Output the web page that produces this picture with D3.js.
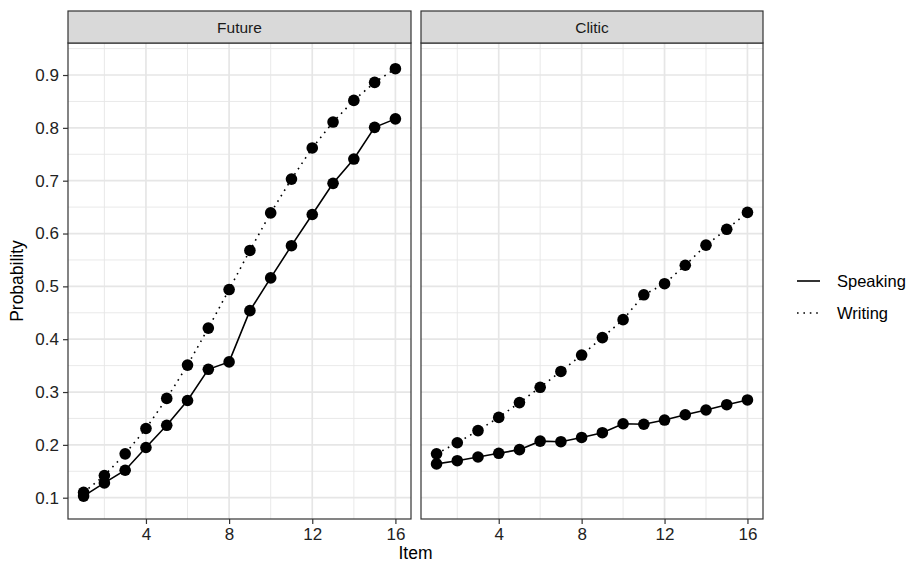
<!DOCTYPE html>
<html>
<head>
<meta charset="utf-8">
<script src="https://cdn.jsdelivr.net/npm/d3@7"></script>
<style>
  body { margin: 0; background: #fff; }
  svg { display: block; font-family: "Liberation Sans", Arial, Helvetica, sans-serif; }
</style>
</head>
<body>
<div id="chart"></div>
<script>
// data
var items = [1, 2, 3, 4, 5, 6, 7, 8, 9, 10, 11, 12, 13, 14, 15, 16];
var facets = ["Future", "Clitic"];
var modes = ["Speaking", "Writing"];

var futureSpeaking = [0.103, 0.128, 0.152, 0.195, 0.237, 0.284, 0.343, 0.357, 0.454, 0.516, 0.577, 0.636, 0.695, 0.741, 0.801, 0.817];
var futureWriting  = [0.110, 0.142, 0.183, 0.231, 0.288, 0.351, 0.421, 0.494, 0.568, 0.639, 0.703, 0.762, 0.811, 0.852, 0.886, 0.912];
var cliticSpeaking = [0.164, 0.170, 0.177, 0.184, 0.191, 0.207, 0.206, 0.214, 0.223, 0.240, 0.239, 0.247, 0.257, 0.266, 0.276, 0.285];
var cliticWriting  = [0.183, 0.204, 0.227, 0.252, 0.280, 0.309, 0.339, 0.370, 0.403, 0.437, 0.484, 0.505, 0.540, 0.578, 0.608, 0.640];

var xTicks = [4, 8, 12, 16];
var xMinor = [2, 6, 10, 14];
var yTicks = [0.1, 0.2, 0.3, 0.4, 0.5, 0.6, 0.7, 0.8, 0.9];
var yMinor = [0.15, 0.25, 0.35, 0.45, 0.55, 0.65, 0.75, 0.85, 0.95];

var seriesByFacet = {
  Future: { Speaking: futureSpeaking, Writing: futureWriting },
  Clitic: { Speaking: cliticSpeaking, Writing: cliticWriting }
};

// layout
var W = 906, H = 565;
var panelTop = 43, panelBottom = 519, stripTop = 11;
var panelX = [[68, 411], [421, 763]];
var dashFor = { Speaking: null, Writing: "1.6,4.8" };
var gridCol = "#e6e6e6";

var svg = d3.select("#chart").append("svg")
  .attr("width", W).attr("height", H);

var y = d3.scaleLinear().domain([0.0597, 0.9606]).range([panelBottom, panelTop]);

facets.forEach(function (f, i) {
  var x0 = panelX[i][0], x1 = panelX[i][1];
  var x = d3.scaleLinear().domain([0.25, 16.75]).range([x0, x1]);
  var g = svg.append("g");

  g.append("rect")
    .attr("x", x0).attr("y", panelTop)
    .attr("width", x1 - x0).attr("height", panelBottom - panelTop)
    .attr("fill", "#fff");

  // minor grid
  g.selectAll(".ymin").data(yMinor).enter().append("line")
    .attr("x1", x0).attr("x2", x1)
    .attr("y1", d => y(d)).attr("y2", d => y(d))
    .attr("stroke", gridCol).attr("stroke-width", 0.9);
  g.selectAll(".xmin").data(xMinor).enter().append("line")
    .attr("y1", panelTop).attr("y2", panelBottom)
    .attr("x1", d => x(d)).attr("x2", d => x(d))
    .attr("stroke", gridCol).attr("stroke-width", 0.9);
  // major grid
  g.selectAll(".ymaj").data(yTicks).enter().append("line")
    .attr("x1", x0).attr("x2", x1)
    .attr("y1", d => y(d)).attr("y2", d => y(d))
    .attr("stroke", gridCol).attr("stroke-width", 1.7);
  g.selectAll(".xmaj").data(xTicks).enter().append("line")
    .attr("y1", panelTop).attr("y2", panelBottom)
    .attr("x1", d => x(d)).attr("x2", d => x(d))
    .attr("stroke", gridCol).attr("stroke-width", 1.7);

  // lines + points
  modes.forEach(function (m) {
    var vals = seriesByFacet[f][m];
    var pts = items.map((it, k) => [it, vals[k]]);
    g.append("path")
      .datum(pts)
      .attr("fill", "none")
      .attr("stroke", "#000")
      .attr("stroke-width", 1.6)
      .attr("stroke-dasharray", dashFor[m])
      .attr("d", d3.line().x(d => x(d[0])).y(d => y(d[1])));
  });
  modes.forEach(function (m) {
    var vals = seriesByFacet[f][m];
    g.selectAll(".pt" + m).data(items).enter().append("circle")
      .attr("cx", d => x(d))
      .attr("cy", (d, k) => y(vals[k]))
      .attr("r", 5.8)
      .attr("fill", "#000");
  });

  // panel border
  g.append("rect")
    .attr("x", x0).attr("y", panelTop)
    .attr("width", x1 - x0).attr("height", panelBottom - panelTop)
    .attr("fill", "none").attr("stroke", "#333").attr("stroke-width", 1.2);

  // strip
  g.append("rect")
    .attr("x", x0).attr("y", stripTop)
    .attr("width", x1 - x0).attr("height", panelTop - stripTop)
    .attr("fill", "#d9d9d9").attr("stroke", "#333").attr("stroke-width", 1.2);
  g.append("text")
    .attr("x", (x0 + x1) / 2).attr("y", (stripTop + panelTop) / 2)
    .attr("dy", "0.36em").attr("text-anchor", "middle")
    .attr("font-size", 15.5).attr("fill", "#1a1a1a")
    .text(f);

  // x axis
  var xa = svg.append("g")
    .attr("transform", "translate(0," + panelBottom + ")")
    .call(d3.axisBottom(x).tickValues(xTicks).tickSize(5).tickPadding(4));
  xa.select(".domain").remove();
  xa.selectAll(".tick line").attr("stroke", "#333").attr("stroke-width", 1.2);
  xa.selectAll(".tick text").attr("font-size", 17).attr("fill", "#222")
    .attr("font-family", "Liberation Sans, Arial, sans-serif");

  if (i === 0) {
    var ya = svg.append("g")
      .attr("transform", "translate(" + x0 + ",0)")
      .call(d3.axisLeft(y).tickValues(yTicks).tickFormat(d3.format(".1f")).tickSize(5).tickPadding(4));
    ya.select(".domain").remove();
    ya.selectAll(".tick line").attr("stroke", "#333").attr("stroke-width", 1.2);
    ya.selectAll(".tick text").attr("font-size", 17).attr("fill", "#222")
      .attr("font-family", "Liberation Sans, Arial, sans-serif");
  }
});

// axis titles
svg.append("text")
  .attr("x", (panelX[0][0] + panelX[1][1]) / 2).attr("y", 559)
  .attr("text-anchor", "middle").attr("font-size", 17.5).attr("fill", "#000")
  .text("Item");
svg.append("text")
  .attr("transform", "translate(23," + (panelTop + panelBottom) / 2 + ") rotate(-90)")
  .attr("text-anchor", "middle").attr("font-size", 17.5).attr("fill", "#000")
  .text("Probability");

// legend
var legY = [281, 313];
var leg = svg.append("g");
modes.forEach(function (m, k) {
  leg.append("line")
    .attr("x1", 797).attr("x2", 820)
    .attr("y1", legY[k]).attr("y2", legY[k])
    .attr("stroke", "#000").attr("stroke-width", 1.6)
    .attr("stroke-dasharray", dashFor[m]);
  leg.append("text")
    .attr("x", 837).attr("y", legY[k]).attr("dy", "0.36em")
    .attr("font-size", 16.5).attr("fill", "#000")
    .text(m);
});
</script>
</body>
</html>
